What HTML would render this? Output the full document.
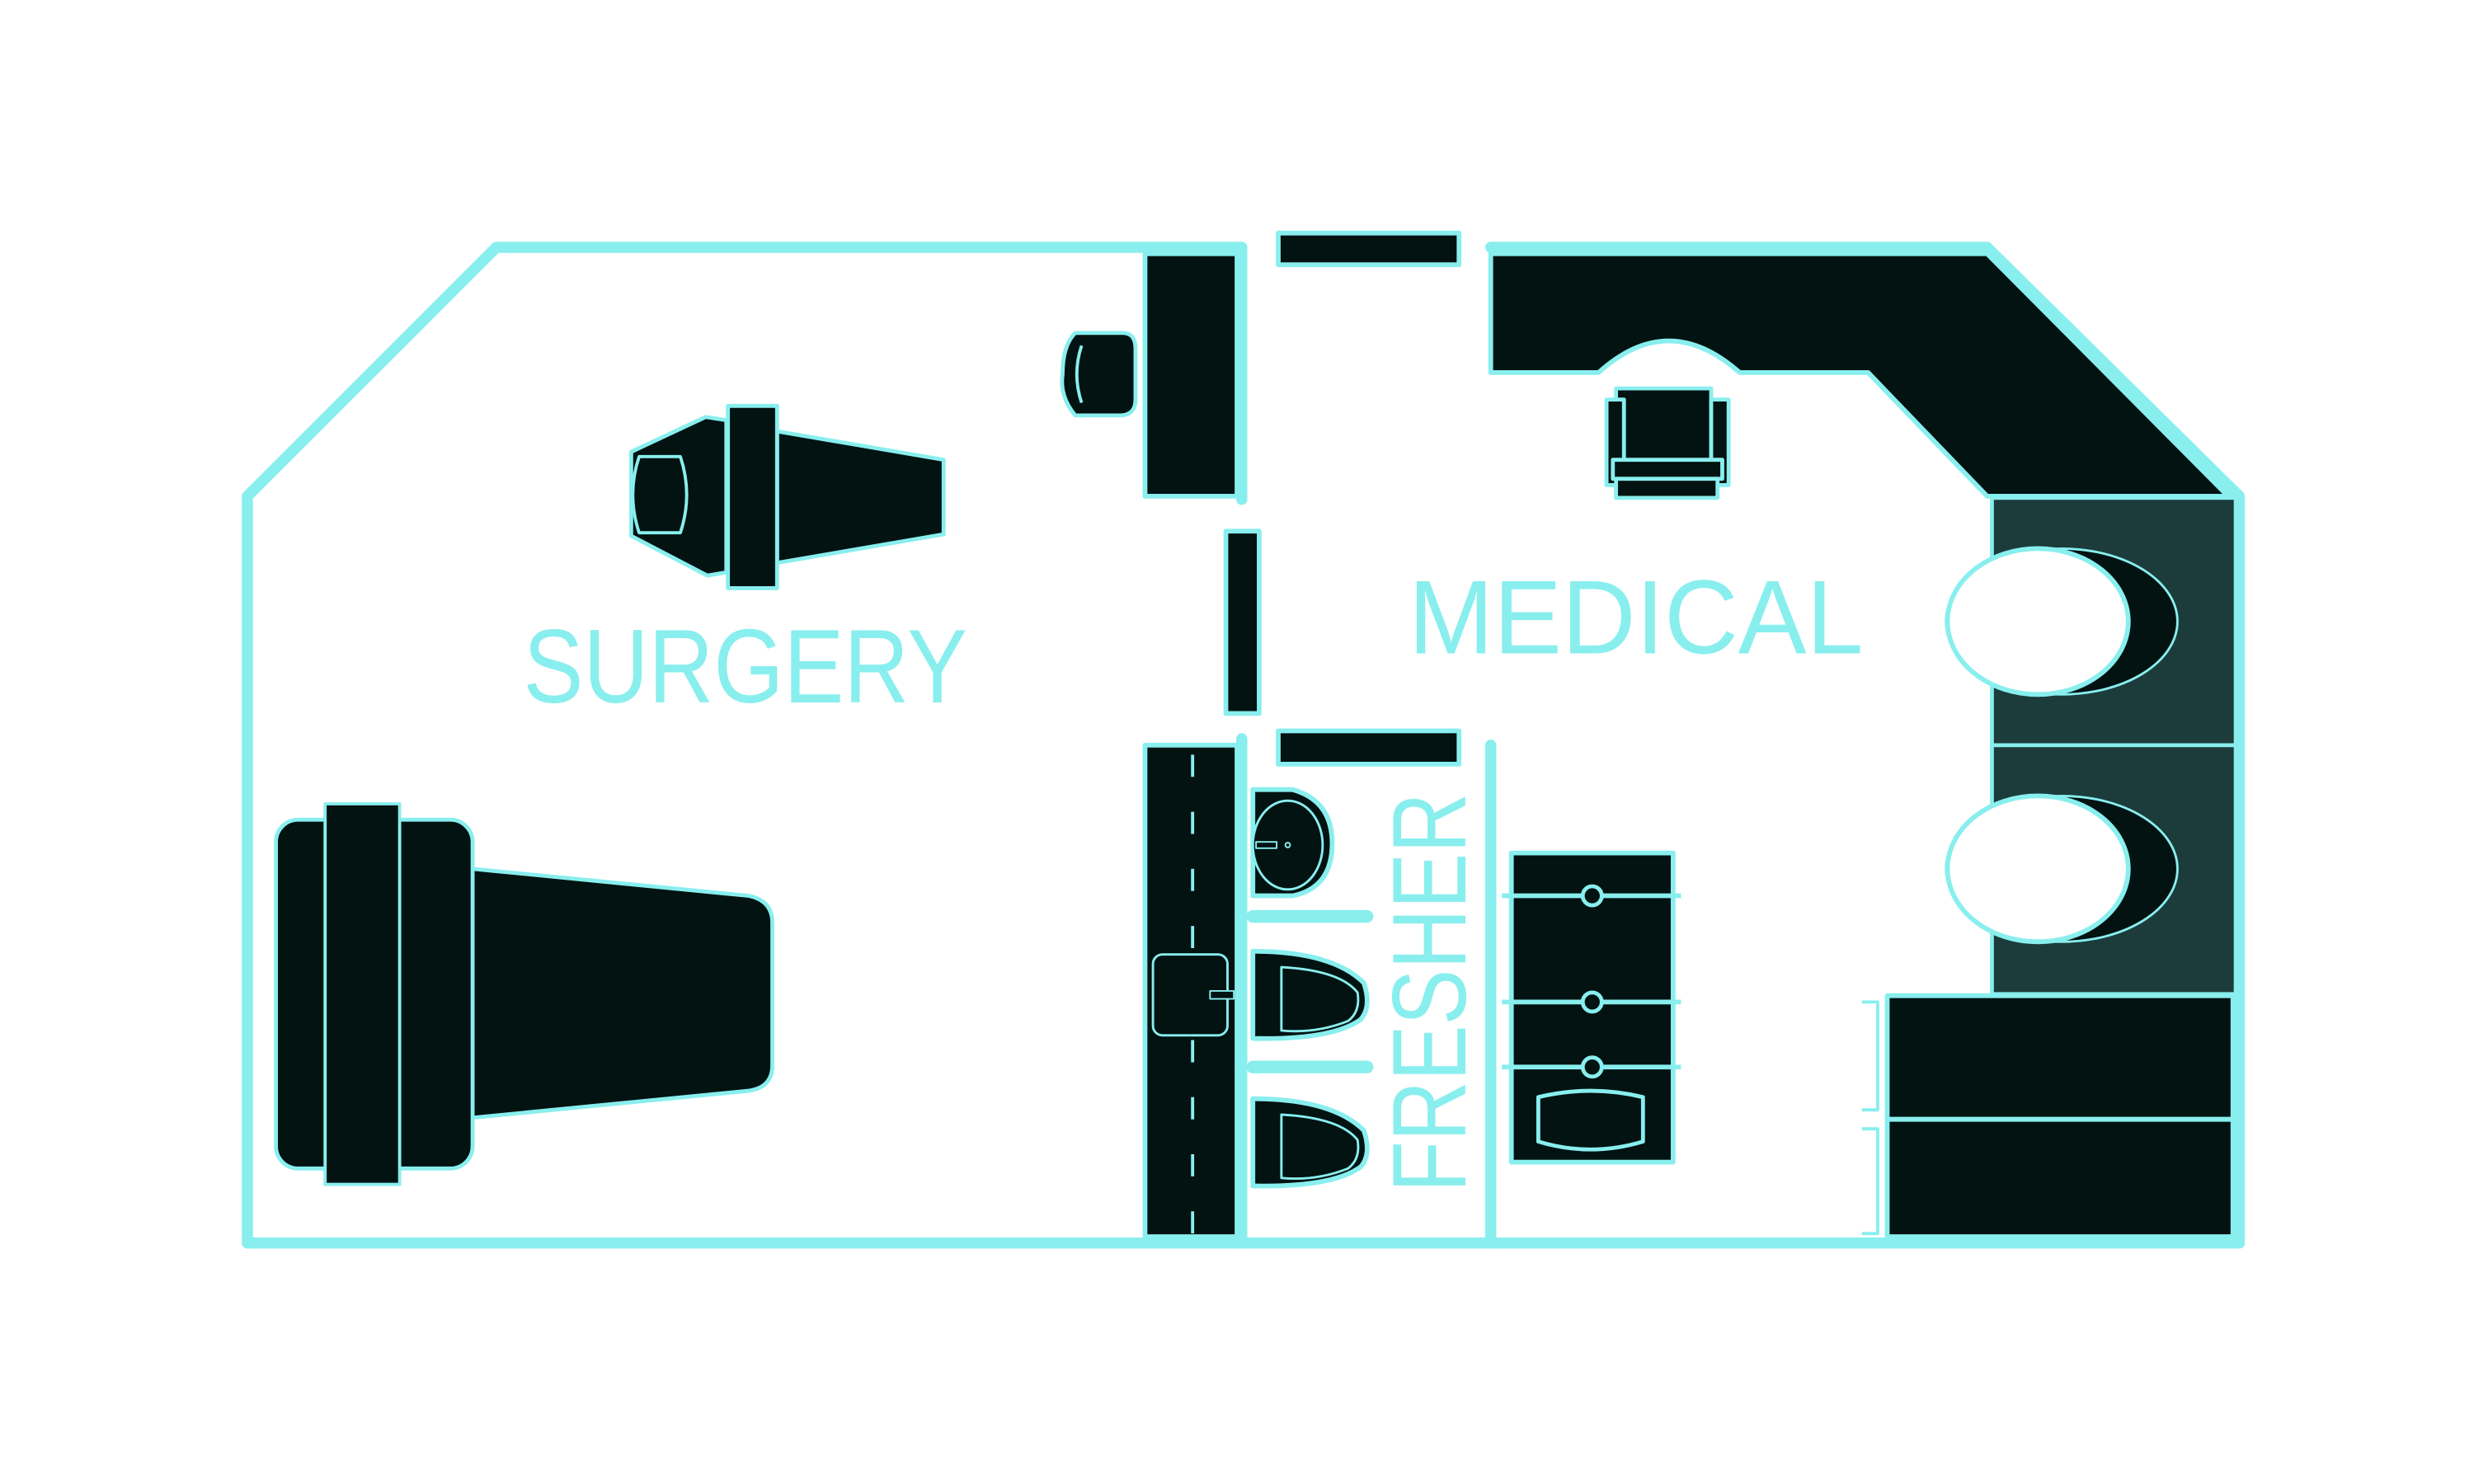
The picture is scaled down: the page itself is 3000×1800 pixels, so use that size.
<!DOCTYPE html>
<html><head><meta charset="utf-8"><style>html,body{margin:0;padding:0;background:#fff}svg{display:block}</style></head>
<body>
<svg width="3000" height="1800" viewBox="0 0 1560 936" xmlns="http://www.w3.org/2000/svg">
<g fill="#021312" stroke="#89eeee" stroke-width="2.5" stroke-linejoin="round">
<!-- right teal panels -->
<rect x="1256" y="314" width="154" height="156" fill="#1c3b3b"/>
<rect x="1256" y="470" width="154" height="157" fill="#1c3b3b"/>
<ellipse cx="1300" cy="392" rx="73" ry="46" stroke-width="1.5"/>
<ellipse cx="1285" cy="392" rx="57" ry="46" fill="#fff" stroke-width="3"/>
<ellipse cx="1300" cy="548" rx="73" ry="46" stroke-width="1.5"/>
<ellipse cx="1285" cy="548" rx="57" ry="46" fill="#fff" stroke-width="3"/>
<rect x="1190" y="628" width="218" height="78" stroke-width="3"/>
<rect x="1190" y="706" width="218" height="74" stroke-width="3"/>
<path d="M1174 632 H1184 V700 H1174 M1174 712 H1184 V778 H1174" fill="none" stroke-width="2"/>
<!-- desk -->
<path d="M940 160 H1253 L1405 313 H1253 L1178 235 H1097 Q1052 195 1008 235 H940 Z" stroke-width="3"/>
<!-- chair -->
<rect x="1019" y="245" width="60" height="62"/>
<rect x="1013" y="252" width="11" height="54"/>
<rect x="1079" y="252" width="11" height="54"/>
<rect x="1017" y="290" width="69" height="12"/>
<rect x="1019" y="302" width="64" height="12"/>
<!-- cabinet & small chair -->
<rect x="722" y="160" width="58" height="153" stroke-width="3"/>
<path d="M678 210 H708 Q716 210 716 220 V252 Q716 262 706 262 H678 Q668 250 670 236 Q670 218 678 210 Z"/>
<path d="M682 218 Q676 236 682 254" fill="none" stroke-width="2"/>
<!-- doors -->
<rect x="806" y="147" width="114" height="20" stroke-width="3"/>
<rect x="806" y="461" width="114" height="21" stroke-width="3"/>
<rect x="773" y="335" width="21" height="115" stroke-width="3"/>
<!-- surgery small table -->
<polygon points="398,285 445,263 458,265 458,361 446,363 398,338"/>
<polygon points="490,272 595,290 595,337 490,355"/>
<rect x="459" y="256" width="31" height="115"/>
<path d="M403 288 H429 Q437 312 429 336 H403 Q395 312 403 288 Z" stroke-width="2"/>
<!-- big table -->
<path d="M298 548 L472 565 Q487 568 487 582 V672 Q487 686 472 688 L298 705 Z"/>
<rect x="174" y="517" width="124" height="220" rx="14"/>
<rect x="205" y="507" width="47" height="240" stroke-width="2"/>
<!-- bathroom strip -->
<rect x="722" y="470" width="58" height="310" stroke-width="3"/>
<line x1="752" y1="476" x2="752" y2="778" stroke-width="2" stroke-dasharray="14,22"/>
<rect x="727" y="602" width="47" height="51" rx="6" stroke-width="1.5"/>
<path d="M763 625 H778 V630 H763 Z" stroke-width="1"/>
<!-- sink -->
<path d="M790 498 H815 Q840 505 840 532 Q840 560 815 565 H790 Z" stroke-width="3"/>
<ellipse cx="812" cy="533" rx="22" ry="28" stroke-width="1.5"/>
<path d="M792 531 H805 V535 H792 Z" stroke-width="1"/>
<circle cx="812" cy="533" r="1.5" stroke-width="1"/>
<!-- toilets -->
<path d="M790 600 Q840 600 860 620 Q865 635 858 643 Q840 656 790 655 Z" stroke-width="3"/>
<path d="M808 610 Q845 612 856 626 Q858 638 850 644 Q830 652 808 650 Z" stroke-width="1.5"/>
<path d="M790 693 Q840 693 860 713 Q865 728 858 736 Q840 749 790 748 Z" stroke-width="3"/>
<path d="M808 703 Q845 705 856 719 Q858 731 850 737 Q830 745 808 743 Z" stroke-width="1.5"/>
<!-- shower -->
<rect x="953" y="538" width="102" height="195" stroke-width="3"/>
<g stroke-width="3" fill="none"><line x1="947" y1="565" x2="1060" y2="565"/><line x1="947" y1="632" x2="1060" y2="632"/><line x1="947" y1="673" x2="1060" y2="673"/></g>
<circle cx="1004" cy="565" r="6" stroke-width="2.5"/>
<circle cx="1004" cy="632" r="6" stroke-width="2.5"/>
<circle cx="1004" cy="673" r="6" stroke-width="2.5"/>
<path d="M970 692 Q1003 684 1036 692 V720 Q1003 730 970 720 Z" stroke-width="2.5"/>
</g>
<!-- walls -->
<g fill="none" stroke="#89eeee" stroke-width="7" stroke-linecap="round" stroke-linejoin="round">
<path d="M783 156 H313 L156 313 V784 H1412 V313 L1253 156 H940"/>
<path d="M783 156 V315"/>
<path d="M783 466 V784"/>
<path d="M940 470 V784"/>
<path d="M790 578 H862 M790 673 H862" stroke-width="8"/>
</g>
<g fill="#89eeee" font-family="Liberation Sans, sans-serif">
<text x="330" y="443" font-size="66" textLength="280" lengthAdjust="spacingAndGlyphs">SURGERY</text>
<text x="888" y="412" font-size="66" textLength="287" lengthAdjust="spacingAndGlyphs">MEDICAL</text>
<text transform="translate(924,752) rotate(-90)" font-size="66" textLength="252" lengthAdjust="spacingAndGlyphs">FRESHER</text>
</g>
</svg>
</body></html>
